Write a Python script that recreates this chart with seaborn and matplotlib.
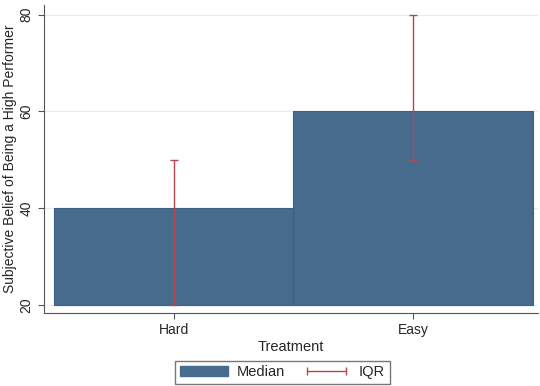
import matplotlib
matplotlib.use("Agg")
import matplotlib.pyplot as plt
import seaborn as sns
import pandas as pd
from matplotlib.patches import Patch
from matplotlib.lines import Line2D

treatments = ["Hard", "Easy"]
medians = [40, 60]
iqr_low = [20, 50]
iqr_high = [50, 80]
base = 20

bar_color = "#476b8d"
iqr_color = "#b5474f"

sns.set_style("white")
plt.rcParams['font.family'] = ['Liberation Sans', 'DejaVu Sans']

df = pd.DataFrame({"treatment": treatments,
                   "height": [m - base for m in medians]})

fig = plt.figure(figsize=(5.4, 3.86), dpi=100)
ax = fig.add_axes([0.0815, 0.189, 0.915, 0.798])

ax.yaxis.grid(True, color="#e3eef1", linewidth=0.8)
ax.set_axisbelow(True)

sns.barplot(data=df, x="treatment", y="height", color=bar_color, width=1.0,
            bottom=base, saturation=1, linewidth=0.8, edgecolor="#3d5f80", ax=ax)

xs = range(len(treatments))
mids = [(l + h) / 2 for l, h in zip(iqr_low, iqr_high)]
errs = [[m - l for m, l in zip(mids, iqr_low)], [h - m for h, m in zip(iqr_high, mids)]]
ax.errorbar(list(xs), mids, yerr=errs, fmt="none", ecolor=iqr_color,
            elinewidth=1, capsize=3, capthick=1)

ax.set_xlim(-0.54, 1.52)
ax.set_ylim(18.3, 82)
ax.set_yticks([20, 40, 60, 80])
ax.set_xticks(list(xs))
ax.set_xticklabels(treatments)
for lab in ax.get_yticklabels():
    lab.set_rotation(90)
    lab.set_va("center")
ax.tick_params(axis="both", direction="out", length=4, width=0.8,
               color="#555555", labelsize=10, left=True, bottom=True)
ax.set_xlabel("Treatment", fontsize=10.5, labelpad=2)
ax.set_ylabel("Subjective Belief of Being a High Performer", fontsize=10, labelpad=2)

sns.despine(ax=ax)
for s in ["left", "bottom"]:
    ax.spines[s].set_color("#555555")
    ax.spines[s].set_linewidth(0.8)

handles = [Patch(facecolor=bar_color, edgecolor=bar_color),
           Line2D([0, 1], [0, 0], color=iqr_color, lw=1, marker="|", markersize=6)]
fig.legend(handles, ["Median", "IQR"], loc="upper center",
           bbox_to_anchor=(0.523, 0.072), ncol=2, frameon=True, fancybox=False,
           edgecolor="#555555", fontsize=10.5, handlelength=3.3, handletextpad=0.6,
           columnspacing=1.2, borderpad=0.3, borderaxespad=0.2, numpoints=2)

fig.savefig("out.png", dpi=100)
